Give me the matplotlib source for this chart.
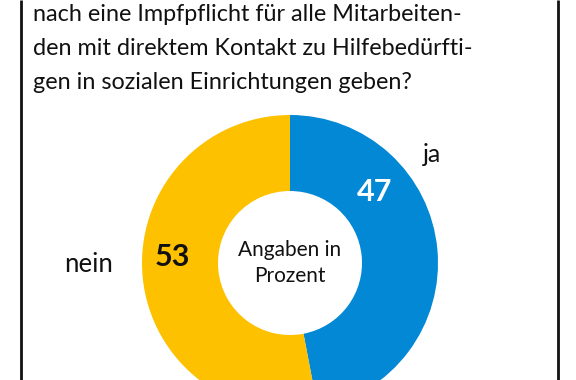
import matplotlib
matplotlib.use("Agg")
import matplotlib.pyplot as plt

labels = ["ja", "nein"]
values = [47, 53]
colors = ["#0288d4", "#fdc100"]
title_lines = [
    "nach eine Impfpflicht für alle Mitarbeiten-",
    "den mit direktem Kontakt zu Hilfebedürfti-",
    "gen in sozialen Einrichtungen geben?",
]
center_text = "Angaben in\nProzent"

plt.rcParams['font.family'] = ['Lato', 'DejaVu Sans']

W, H = 576, 380
fig = plt.figure(figsize=(W / 100, H / 100), dpi=100)
ax = fig.add_axes([0, 0, 1, 1])

cx, cy = 290, H - 263
R = 148
wedges, _ = ax.pie(values, colors=colors, startangle=90, counterclock=False,
                   center=(cx, cy), radius=R, frame=True,
                   wedgeprops=dict(width=76, linewidth=0))
ax.set_xlim(0, W)
ax.set_ylim(0, H)
ax.set_aspect('auto')
ax.axis('off')

# border
ax.plot([21, 21], [0, H], color="#111111", lw=2, solid_capstyle='butt')
ax.plot([558, 558], [0, H], color="#111111", lw=2, solid_capstyle='butt')

# title
for i, line in enumerate(title_lines):
    ax.text(33, H - (21 + 34 * i), line, fontsize=16.8, ha='left', va='baseline',
            color="#111111")

ax.text(cx, cy, center_text, fontsize=15, ha='center', va='center',
        linespacing=1.35, color="#111111")

ax.text(375, H - 192, str(values[0]), fontsize=22, fontweight='bold',
        color='white', ha='center', va='center')
ax.text(172, H - 257, str(values[1]), fontsize=22, fontweight='bold',
        color='#111111', ha='center', va='center')
ax.text(432, H - 155, labels[0], fontsize=18, ha='center', va='center', color="#111111")
ax.text(89, H - 265, labels[1], fontsize=18.5, ha='center', va='center', color="#111111")

fig.savefig("out.png", dpi=100)
